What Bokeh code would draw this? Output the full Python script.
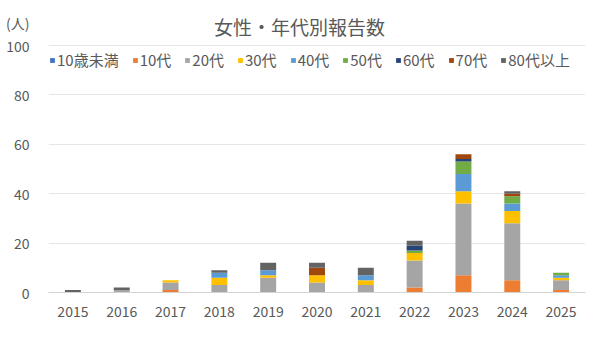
from bokeh.plotting import figure
from bokeh.models import Range1d, FactorRange, Legend, LegendItem, Label, FixedTicker
from bokeh.embed import file_html
from bokeh.resources import INLINE

years = ["2015", "2016", "2017", "2018", "2019", "2020", "2021", "2022", "2023", "2024", "2025"]
groups = ["10歳未満", "10代", "20代", "30代", "40代", "50代", "60代", "70代", "80代以上"]
under10 = [0, 0, 0, 0, 0, 0, 0, 0, 0, 0, 0]
teens   = [0, 0, 1, 0, 0, 0, 0, 2, 7, 5, 1]
twenties = [0, 1, 3, 3, 6, 4, 3, 11, 29, 23, 4]
thirties = [0, 0, 1, 3, 1, 3, 2, 3, 5, 5, 1]
forties = [0, 0, 0, 2, 2, 0, 2, 0, 7, 3, 1]
fifties = [0, 0, 0, 0, 0, 0, 0, 1, 5, 3, 1]
sixties = [0, 0, 0, 0, 0, 0, 0, 2, 1, 0, 0]
seventies = [0, 0, 0, 0, 0, 3, 0, 0, 2, 1, 0]
eighties = [1, 1, 0, 1, 3, 2, 3, 2, 0, 1, 0]
y_ticks = [0, 20, 40, 60, 80, 100]
unit_label = "(人)"
title_text = "女性・年代別報告数"

colors = ["#4472C4", "#ED7D31", "#A5A5A5", "#FFC000", "#5B9BD5", "#70AD47", "#264478", "#9E480E", "#636363"]
series = [under10, teens, twenties, thirties, forties, fifties, sixties, seventies, eighties]
keys = ["s%d" % i for i in range(len(groups))]
data = {"year": years}
for k, s in zip(keys, series):
    data[k] = s

FONT = "Noto Sans CJK JP"
TXT = "#595959"

# frame spans from the canvas top to the x axis; 100 sits 247px above the baseline
Y_TOP = 292 / 247 * 100
UNIT_POS = (292 - 22) / 247 * 100

p = figure(width=597, height=344, x_range=FactorRange(*years), y_range=Range1d(0, Y_TOP),
           output_backend="svg", toolbar_location=None,
           min_border_left=48, min_border_right=12, min_border_top=0, min_border_bottom=52)

rs = p.vbar_stack(keys, x="year", width=0.327, color=colors, source=data, line_color=None)

p.outline_line_color = None
p.xgrid.grid_line_color = None
p.ygrid.ticker = FixedTicker(ticks=y_ticks)
p.ygrid.grid_line_color = "#e6e6e6"
p.ygrid.grid_line_width = 1
p.yaxis.ticker = FixedTicker(ticks=y_ticks + [UNIT_POS])
p.yaxis.major_label_overrides = {UNIT_POS: unit_label}
p.yaxis.axis_line_color = None
p.yaxis.major_tick_line_color = None
p.yaxis.minor_tick_line_color = None
p.yaxis.major_label_standoff = 13
p.xaxis.axis_line_color = "#d4d4d4"
p.xaxis.major_tick_line_color = None
p.xaxis.minor_tick_line_color = None
p.xaxis.major_label_standoff = 7
for ax in (p.xaxis, p.yaxis):
    ax.major_label_text_font = FONT
    ax.major_label_text_font_size = "14px"
    ax.major_label_text_color = TXT

items = [LegendItem(label=g, renderers=[r]) for g, r in zip(groups, rs)]
legend = Legend(items=items, orientation="horizontal", location=(1, 222),
                background_fill_alpha=0, border_line_alpha=0,
                glyph_width=6, glyph_height=6, label_standoff=2, spacing=13,
                padding=0, margin=0, label_height=18,
                label_text_font=FONT, label_text_font_size="15px", label_text_color=TXT)
p.add_layout(legend, "center")

p.add_layout(Label(x=251, y=266, x_units="screen", y_units="screen", text=title_text,
                   text_align="center", text_baseline="middle", text_font=FONT,
                   text_font_size="19px", text_color=TXT))

open("out.html", "w").write(file_html(p, INLINE))
